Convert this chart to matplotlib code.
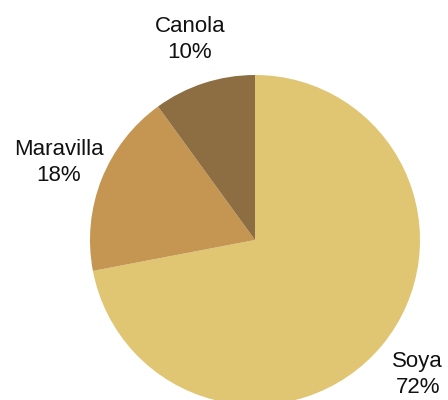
import numpy as np
import matplotlib.pyplot as plt

# Oilseed shares
crops = ["Soya", "Maravilla", "Canola"]
shares = [72, 18, 10]
colors = ["#E0C572", "#C49652", "#8D6E42"]

plt.rcParams['font.family'] = ['Liberation Sans', 'DejaVu Sans']

fig = plt.figure(figsize=(4.48, 4.0), dpi=100)
ax = fig.add_axes([0, 0, 1, 1])

center = (255, 160)
radius = 165
wedges, _ = ax.pie(shares, colors=colors, startangle=90, counterclock=False,
                   center=center, radius=radius, frame=True,
                   wedgeprops=dict(linewidth=0, antialiased=True))
ax.set_xlim(0, 448)
ax.set_ylim(0, 400)
ax.set_aspect('equal')
ax.axis('off')

label_r = radius * 1.28
for w, name, s in zip(wedges, crops, shares):
    mid = np.deg2rad((w.theta1 + w.theta2) / 2)
    x = center[0] + label_r * np.cos(mid)
    y = center[1] + label_r * np.sin(mid)
    ax.text(x, y, f"{name}\n{s}%", ha='center', va='center', fontsize=16,
            linespacing=1.3, color='#111111')

fig.savefig("out.png", dpi=100)
